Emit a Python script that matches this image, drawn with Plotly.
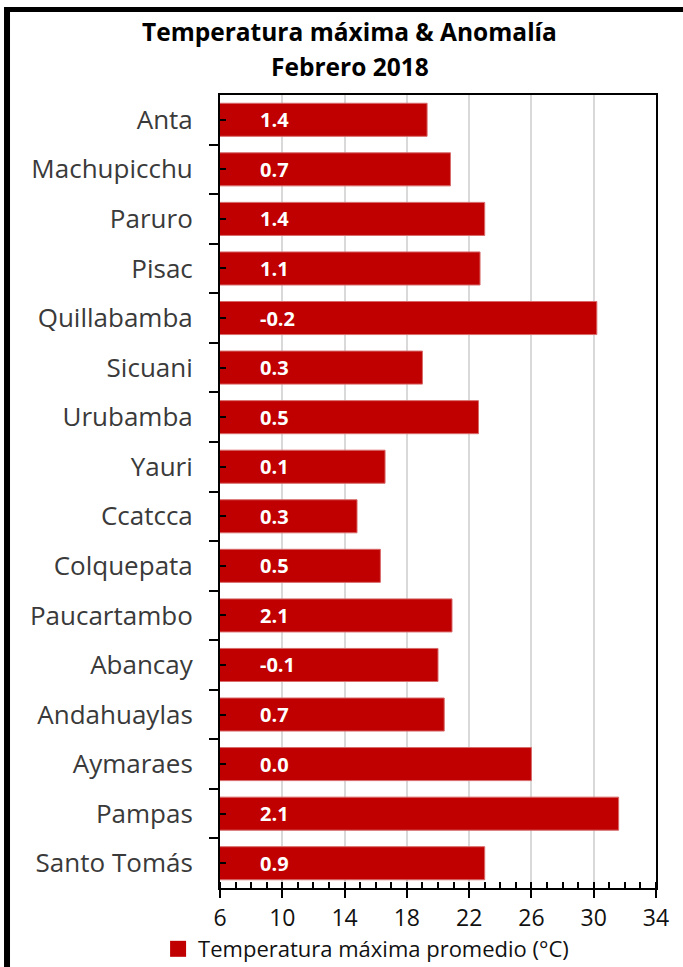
import plotly.graph_objects as go

stations = ["Anta", "Machupicchu", "Paruro", "Pisac", "Quillabamba", "Sicuani",
            "Urubamba", "Yauri", "Ccatcca", "Colquepata", "Paucartambo", "Abancay",
            "Andahuaylas", "Aymaraes", "Pampas", "Santo Tomás"]
tmax = [19.3, 20.8, 23.0, 22.7, 30.2, 19.0, 22.6, 16.6, 14.8, 16.3, 20.9, 20.0,
        20.4, 26.0, 31.6, 23.0]
anomaly = [1.4, 0.7, 1.4, 1.1, -0.2, 0.3, 0.5, 0.1, 0.3, 0.5, 2.1, -0.1,
           0.7, 0.0, 2.1, 0.9]
x_ticks = [6, 10, 14, 18, 22, 26, 30, 34]

series_name = "Temperatura máxima promedio (°C)"
title1 = "Temperatura máxima & Anomalía"
title2 = "Febrero 2018"

RED = "#C00000"
FONT = "Open Sans"
pos = list(range(len(stations)))

fig = go.Figure()
fig.add_trace(go.Bar(
    x=tmax, y=pos, orientation="h", width=0.667,
    marker=dict(color=RED, line=dict(color="#d86a6a", width=1)),
    showlegend=False, hoverinfo="x+y",
))
fig.add_trace(go.Scatter(
    x=[None], y=[None], mode="markers", name=series_name,
    marker=dict(symbol="square", size=20, color=RED),
    xaxis="x2",
))

annotations = []
for i, a in enumerate(anomaly):
    annotations.append(dict(
        x=8.45, y=i, xref="x", yref="y", text=f"<b>{a:.1f}</b>",
        showarrow=False, xanchor="left", yanchor="middle",
        font=dict(family=FONT, size=20, color="white"),
    ))
annotations.append(dict(x=0.298, y=1.0805, xref="paper", yref="paper",
                        text=f"<b>{title1}</b>", showarrow=False,
                        xanchor="center", yanchor="middle",
                        font=dict(family=FONT, size=24.5, color="black")))
annotations.append(dict(x=0.298, y=1.0365, xref="paper", yref="paper",
                        text=f"<b>{title2}</b>", showarrow=False,
                        xanchor="center", yanchor="middle",
                        font=dict(family=FONT, size=24.5, color="black")))

fig.update_layout(
    width=683, height=967, autosize=False,
    margin=dict(l=220, r=27, t=95, b=79),
    paper_bgcolor="white", plot_bgcolor="white",
    font=dict(family=FONT, color="#000"),
    barmode="overlay",
    annotations=annotations,
    xaxis=dict(
        range=[6, 34], tickvals=x_ticks, ticks="outside", ticklen=8, tickwidth=2,
        tickcolor="black", showline=True, linecolor="black", linewidth=2,
        mirror=True, showgrid=True, gridcolor="#d9d9d9", gridwidth=2,
        zeroline=False, tickfont=dict(size=23, color="#111"),
        minor=dict(dtick=1, tick0=6, ticks="inside", ticklen=6, tickwidth=1.5,
                   tickcolor="black", showgrid=False),
        fixedrange=True, automargin=False,
    ),
    xaxis2=dict(
        range=[6, 34], overlaying="x", anchor="y", side="bottom",
        tickvals=x_ticks, ticks="inside", ticklen=6, tickwidth=2, tickcolor="black",
        showticklabels=False, showgrid=False, zeroline=False, showline=False,
        fixedrange=True,
    ),
    yaxis=dict(
        range=[15.5, -0.5], tickvals=pos, ticktext=stations,
        ticks="inside", ticklen=6, tickwidth=2, tickcolor="black",
        showline=True, linecolor="black", linewidth=2, mirror=True,
        showgrid=False, zeroline=False, ticklabelstandoff=20,
        tickfont=dict(size=26, color="#3a3a3a"),
        minor=dict(tickvals=[p - 0.5 for p in pos] + [len(pos) - 0.5],
                   ticks="outside", ticklen=9, tickwidth=2, tickcolor="black",
                   showgrid=False),
        fixedrange=True, automargin=False,
    ),
    legend=dict(
        orientation="h", x=-0.142, xanchor="left",
        yref="container", y=0.0186, yanchor="middle",
        font=dict(size=22, color="#111"), bgcolor="rgba(0,0,0,0)",
        itemsizing="trace",
    ),
    shapes=[
        dict(type="line", xref="paper", yref="paper", x0=-0.4885, x1=1.3,
             y0=1.1078, y1=1.1078, line=dict(color="black", width=5)),
        dict(type="line", xref="paper", yref="paper", x0=-0.4885, x1=-0.4885,
             y0=-0.2, y1=1.111, line=dict(color="black", width=6)),
    ],
)

fig.write_html("out.html")
